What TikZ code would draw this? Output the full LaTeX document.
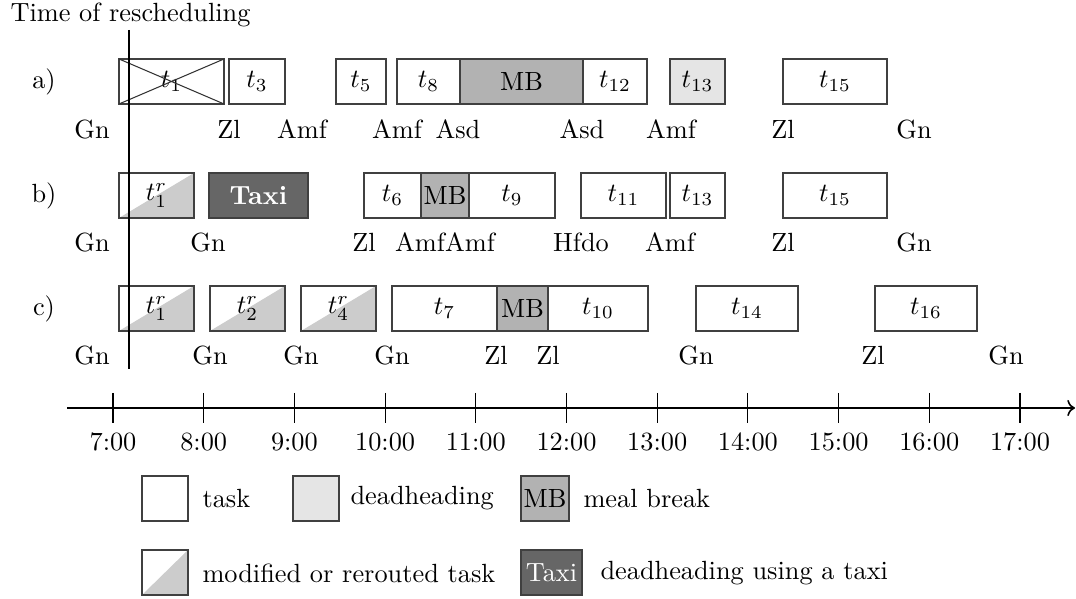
\documentclass[tikz,border=0pt]{standalone}
\usetikzlibrary{arrows.meta}
\newcommand\tb[6]{\pgfmathsetmacro\bw{(#3-#2)*0.38}\node[#5, minimum width=\bw pt] (#1) at (#2,#4) {#6};}
\begin{document}
\begin{tikzpicture}[
  x=0.38pt, y=-0.38pt,
  bx/.style={draw=black!75, line width=0.45pt, inner sep=0pt, outer sep=0pt, minimum height=17.1pt, anchor=north west},
  taskbox/.style={bx, fill=white},
  deadbox/.style={bx, fill=black!10},
  mealbox/.style={bx, fill=black!30},
  taxibox/.style={bx, fill=black!60, text=white},
  modbox/.style={bx, fill=white, path picture={\fill[black!20] (path picture bounding box.south west) -- (path picture bounding box.south east) -- (path picture bounding box.north east) -- cycle;}},
  lbl/.style={anchor=base, inner sep=0pt},
  legtxt/.style={anchor=west, inner sep=0pt},
]
\useasboundingbox (0,0) rectangle (1076,599);

\node[anchor=base west, inner sep=0pt] (trs) at (10,21.5) {Time of rescheduling};

% row labels
\node (ra) at (44,81.5) {a)};
\node (rb) at (44,195.5) {b)};
\node (rc) at (44,308.5) {c)};

% row a
\tb{a1}{119}{224}{59}{taskbox}{$t_1$}
\draw[black!80] (a1.north west) -- (a1.south east) (a1.south west) -- (a1.north east);
\tb{a3}{229}{285}{59}{taskbox}{$t_3$}
\tb{a5}{336}{386}{59}{taskbox}{$t_5$}
\tb{a8}{397}{460}{59}{taskbox}{$t_8$}
\tb{amb}{460}{583}{59}{mealbox}{MB}
\tb{a12}{583}{647}{59}{taskbox}{$t_{12}$}
\tb{a13}{670}{725}{59}{deadbox}{$t_{13}$}
\tb{a15}{783}{887}{59}{taskbox}{$t_{15}$}

\node[lbl] (la1) at (92,138.5) {Gn};
\node[lbl] (la2) at (229,138.5) {Zl};
\node[lbl] (la3) at (302,138.5) {Amf};
\node[lbl] (la4) at (397,138.5) {Amf};
\node[lbl] (la5) at (458,138.5) {Asd};
\node[lbl] (la6) at (582,138.5) {Asd};
\node[lbl] (la7) at (671,138.5) {Amf};
\node[lbl] (la8) at (783,138.5) {Zl};
\node[lbl] (la9) at (914,138.5) {Gn};

% row b
\tb{b1}{119}{194}{173}{modbox}{$t_1^r$}
\tb{btx}{209}{308}{173}{taxibox}{\textbf{Taxi}}
\tb{b6}{364}{421}{173}{taskbox}{$t_6$}
\tb{bmb}{421}{469}{173}{mealbox}{MB}
\tb{b9}{469}{555}{173}{taskbox}{$t_9$}
\tb{b11}{581}{666}{173}{taskbox}{$t_{11}$}
\tb{b13}{670}{725}{173}{taskbox}{$t_{13}$}
\tb{b15}{783}{887}{173}{taskbox}{$t_{15}$}

\node[lbl] (lb1) at (92,251.5) {Gn};
\node[lbl] (lb2) at (208,251.5) {Gn};
\node[lbl] (lb3) at (364,251.5) {Zl};
\node[lbl] (lb4) at (420,251.5) {Amf};
\node[lbl] (lb5) at (470,251.5) {Amf};
\node[lbl] (lb6) at (581,251.5) {Hfdo};
\node[lbl] (lb7) at (670,251.5) {Amf};
\node[lbl] (lb8) at (783,251.5) {Zl};
\node[lbl] (lb9) at (914,251.5) {Gn};

% row c
\tb{c1}{119}{194}{286}{modbox}{$t_1^r$}
\tb{c2}{210}{285}{286}{modbox}{$t_2^r$}
\tb{c4}{301}{376}{286}{modbox}{$t_4^r$}
\tb{c7}{392}{497}{286}{taskbox}{$t_7$}
\tb{cmb}{497}{548}{286}{mealbox}{MB}
\tb{c10}{548}{648}{286}{taskbox}{$t_{10}$}
\tb{c14}{696}{798}{286}{taskbox}{$t_{14}$}
\tb{c16}{875}{977}{286}{taskbox}{$t_{16}$}

\node[lbl] (lc1) at (92,364.5) {Gn};
\node[lbl] (lc2) at (210,364.5) {Gn};
\node[lbl] (lc3) at (301,364.5) {Gn};
\node[lbl] (lc4) at (392,364.5) {Gn};
\node[lbl] (lc5) at (496,364.5) {Zl};
\node[lbl] (lc6) at (548,364.5) {Zl};
\node[lbl] (lc7) at (696,364.5) {Gn};
\node[lbl] (lc8) at (873,364.5) {Zl};
\node[lbl] (lc9) at (1006,364.5) {Gn};

% rescheduling line
\coordinate (rtop) at (129,30);
\coordinate (rbot) at (129,369);
\draw (rtop) -- (rbot);

% time axis
\coordinate (ax0) at (67,408);
\coordinate (ax1) at (1075,408);
\draw[->, line width=0.6pt] (ax0) -- (ax1);
\foreach \h [evaluate=\h as \xx using 113+90.7*\h, evaluate=\h as \hh using int(7+\h)] in {0,...,10} {
  \draw (\xx,393) -- (\xx,423);
  \node[lbl] (tick\h) at (\xx,450.5) {\hh:00};
}

% legend
\tb{lg1}{142}{188}{476}{taskbox}{}
\node[legtxt] (lgt1) at (202,498.5) {task};
\tb{lg2}{293}{339}{476}{deadbox}{}
\node[legtxt] (lgt2) at (350,498.5) {deadheading};
\tb{lg3}{521}{569}{476}{mealbox}{MB}
\node[legtxt] (lgt3) at (583,498.5) {meal break};
\tb{lg4}{142}{188}{550}{modbox}{}
\node[legtxt] (lgt4) at (202,573) {modified or rerouted task};
\tb{lg5}{521}{582}{550}{taxibox}{Taxi}
\node[legtxt] (lgt5) at (600,573) {deadheading using a taxi};
\end{tikzpicture}
\end{document}
